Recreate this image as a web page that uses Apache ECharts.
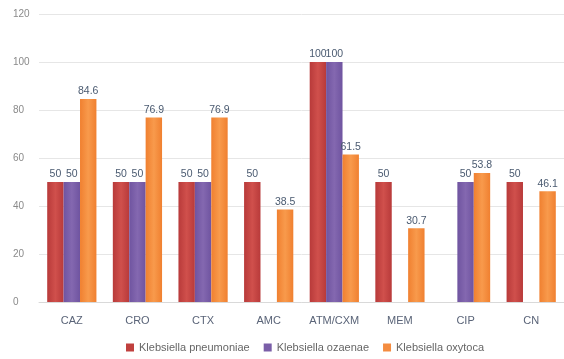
<!DOCTYPE html>
<html><head><meta charset="utf-8">
<script src="https://cdn.jsdelivr.net/npm/echarts@6/dist/echarts.min.js"></script>
<style>html,body{margin:0;padding:0;background:#fff}#c{width:564px;height:359px}</style>
</head><body><div id="c"></div>
<script>
const categories = ['CAZ','CRO','CTX','AMC','ATM/CXM','MEM','CIP','CN'];
const pneumoniae = [50,50,50,50,100,50,null,50];
const ozaenae = [50,50,50,null,100,null,50,null];
const oxytoca = [84.6,76.9,76.9,38.5,61.5,30.7,53.8,46.1];
const seriesNames = ['Klebsiella pneumoniae','Klebsiella ozaenae','Klebsiella oxytoca'];
const yTicks = {min:0,max:120,interval:20};

function grad(a,b){return new echarts.graphic.LinearGradient(0,0,1,0,[{offset:0,color:a},{offset:0.5,color:b},{offset:1,color:a}]);}
const colors = [grad('#b83a3a','#d0504c'), grad('#6f54a0','#8468b0'), grad('#f08030','#f89a4c')];
const legendColors = ['#c0403e','#7a5ea8','#f48c40'];
const font = 'Liberation Sans';

const chart = echarts.init(document.getElementById('c'),null,{renderer:'canvas'});
const mk = (name,data,i)=>({
  name, type:'bar', data, barGap:'0%', barCategoryGap:'25%',
  itemStyle:{color:colors[i]},
  label:{show:true,position:'top',distance:2,color:'#4a5a70',fontSize:10.5,fontFamily:font},
});
chart.setOption({
  animation:false,
  color:legendColors,
  grid:{left:39,right:0,top:14,bottom:57},
  legend:{bottom:1,left:121,itemWidth:8,itemHeight:8,itemGap:14,icon:'rect',
    textStyle:{color:'#666',fontSize:11,fontFamily:font},
    data:seriesNames.map((n,i)=>({name:n,itemStyle:{color:legendColors[i]}}))},
  xAxis:{type:'category',data:categories,
    axisLine:{lineStyle:{color:'#d9d9d9'}},axisTick:{show:false},
    axisLabel:{color:'#5a6478',fontSize:11,fontFamily:font,margin:13}},
  yAxis:{type:'value',min:yTicks.min,max:yTicks.max,interval:yTicks.interval,
    axisLine:{show:false},axisTick:{show:false},
    splitLine:{lineStyle:{color:'#e6e6e6'}},
    axisLabel:{color:'#8a8a8a',fontSize:10,fontFamily:font,align:'left',margin:26}},
  series:[mk(seriesNames[0],pneumoniae,0),mk(seriesNames[1],ozaenae,1),mk(seriesNames[2],oxytoca,2)]
});
</script></body></html>
